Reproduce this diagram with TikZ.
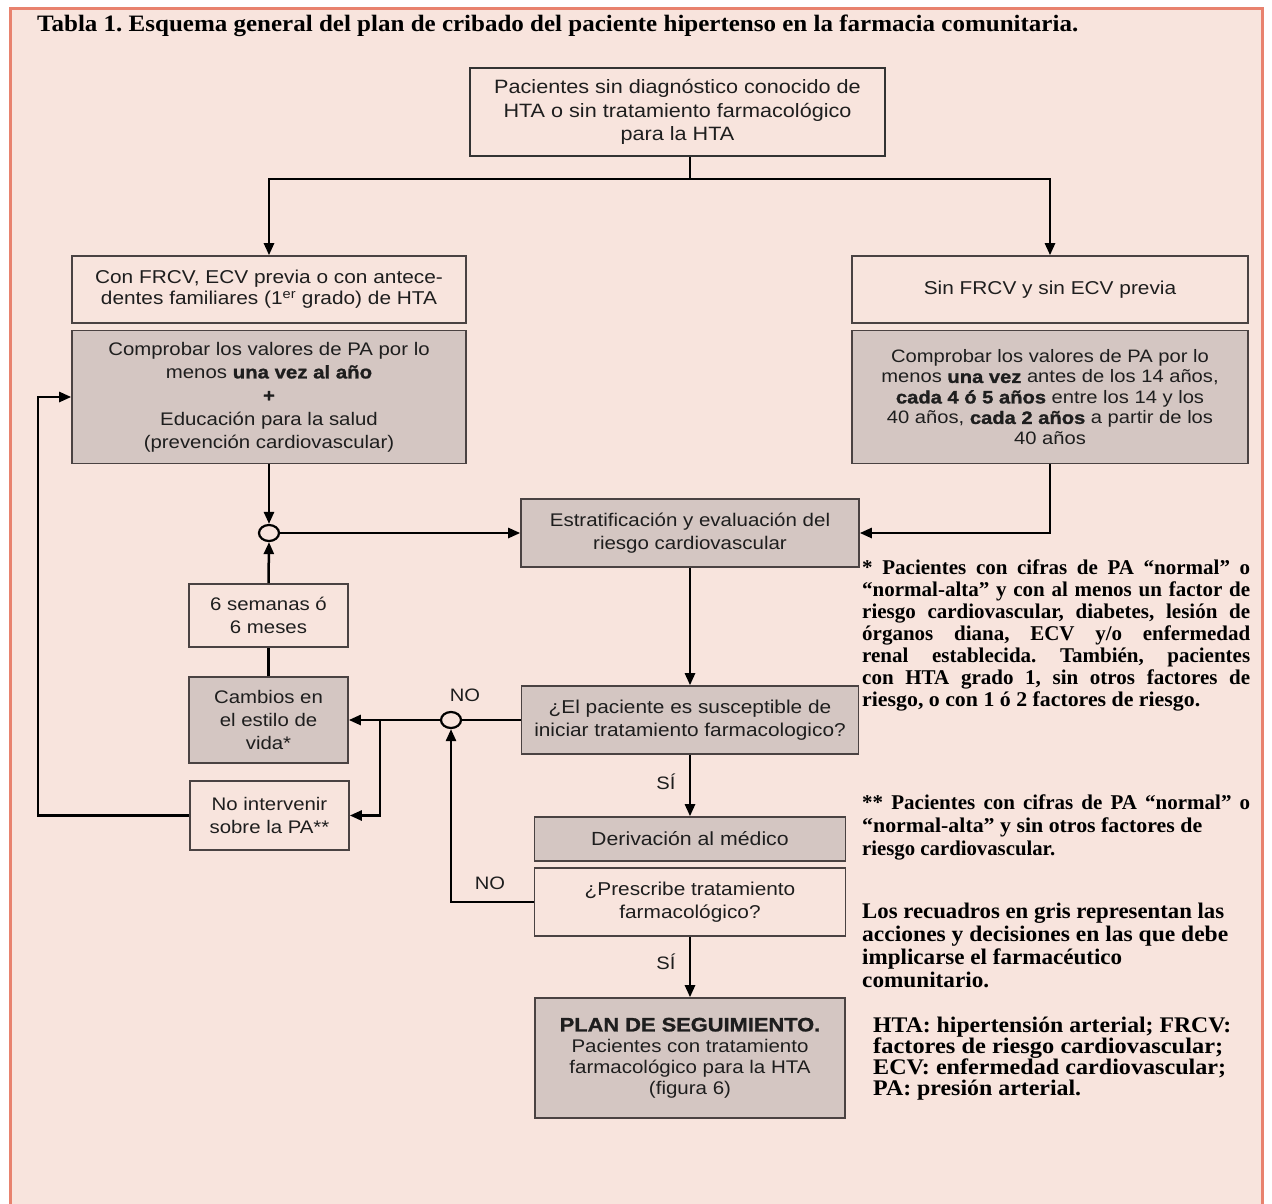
\documentclass[tikz,border=0pt]{standalone}
\usepackage{fontspec}
\usepackage{graphicx}
\usetikzlibrary{arrows.meta,calc,shapes.geometric}
\newfontfamily\arialf[FakeStretch=1.12]{Liberation Sans}
\newfontfamily\arialblk[FakeStretch=1.12,FakeBold=1.2]{Liberation Sans}
\newfontfamily\serifb{Liberation Serif}
\definecolor{bgc}{HTML}{F8E4DD}
\definecolor{framec}{HTML}{E8826E}
\definecolor{grayc}{HTML}{D4C6C2}
\definecolor{edgec}{HTML}{4A4242}
\definecolor{txt}{HTML}{1E1E1E}
\newcommand{\fs}[2]{\fontsize{#1}{#2}\selectfont}
\newcommand{\wl}[2]{\resizebox{#1pt}{\height}{#2}}
\newcommand{\hb}[1]{{\arialblk\bfseries #1}}
\frenchspacing
\begin{document}
\begin{tikzpicture}[x=1pt,y=-1pt,
 box/.style={draw=edgec, line width=1.6pt, fill=bgc, align=center, inner sep=0pt, text=txt, font=\arialf\fs{18.6}{21}},
 gbox/.style={box, fill=grayc},
 ln/.style={line width=2.5pt, black},
 arr/.style={ln, -{Triangle[length=12pt,width=10pt]}},
 circ/.style={ellipse, draw=black, line width=2.2pt, fill=bgc, minimum width=20pt, minimum height=16pt, inner sep=0pt},
 lab/.style={font=\arialf\fs{18}{20}, text=txt, inner sep=0pt},
 note/.style={font=\serifb\bfseries\fs{21}{22}, inner sep=0pt, anchor=base west, text=black},
 noteb/.style={note, font=\serifb\bfseries\fs{22.3}{22}}
]
\useasboundingbox (0,0) rectangle (1272,1203);
\fill[white] (0,0) rectangle (1272,1203);
\fill[bgc] (10,8) rectangle (1262,1215);
\draw[framec, line width=3pt] (10,1215) -- (10,8) -- (1262,8) -- (1262,1215);

% title
\node[anchor=base west, inner sep=0pt] (title) at (37,31) {\resizebox{1041pt}{\height}{\serifb\bfseries\fs{23.5}{24}Tabla 1. Esquema general del plan de cribado del paciente hipertenso en la farmacia comunitaria.}};

% boxes
\node[box, line width=2pt, draw=black!80, minimum width=415pt, minimum height=88pt, font=\arialf\fs{19.3}{23.5}] (top) at (677.5,112) {Pacientes sin diagnóstico conocido de\\HTA o sin tratamiento farmacológico\\para la HTA};
\node[box, minimum width=394pt, minimum height=67pt] (l1) at (269,289.5) {Con FRCV, ECV previa o con antece-\\dentes familiares (1\textsuperscript{er} grado) de HTA};
\node[gbox, minimum width=394pt, minimum height=133pt, font=\arialf\fs{18.2}{23.3}] (l2) at (269,397) {Comprobar los valores de PA por lo\\menos \hb{una vez al año}\\\hb{+}\\Educación para la salud\\(prevención cardiovascular)};
\node[box, minimum width=396pt, minimum height=67pt] (r1) at (1050,289.5) {Sin FRCV y sin ECV previa};
\node[gbox, minimum width=396pt, minimum height=133pt, font=\arialf\fs{18}{20.5}] (r2) at (1050,397) {Comprobar los valores de PA por lo\\menos \hb{una vez} antes de los 14 años,\\\hb{cada 4 ó 5 años} entre los 14 y los\\40 años, \hb{cada 2 años} a partir de los\\40 años};
\node[gbox, minimum width=338pt, minimum height=68pt, font=\arialf\fs{18.3}{23}] (est) at (690,533) {Estratificación y evaluación del\\riesgo cardiovascular};
\node[box, minimum width=159pt, minimum height=63pt, font=\arialf\fs{18.2}{23}] (sem) at (268.5,615.5) {6 semanas ó\\6 meses};
\node[gbox, minimum width=159pt, minimum height=86pt, font=\arialf\fs{18.2}{23}] (cam) at (268.5,720) {Cambios en\\el estilo de\\vida*};
\node[box, minimum width=159pt, minimum height=69pt, font=\arialf\fs{18.2}{23}] (noi) at (269.5,815.5) {No intervenir\\sobre la PA**};
\node[gbox, minimum width=337pt, minimum height=68pt, font=\arialf\fs{18.6}{23}] (pac) at (690,720) {¿El paciente es susceptible de\\iniciar tratamiento farmacologico?};
\node[gbox, minimum width=311pt, minimum height=44pt, font=\arialf\fs{19}{23}] (der) at (690,839) {Derivación al médico};
\node[box, minimum width=311pt, minimum height=68pt, font=\arialf\fs{18.6}{23}] (pre) at (690,902) {¿Prescribe tratamiento\\farmacológico?};
\node[gbox, minimum width=310pt, minimum height=120pt, font=\arialf\fs{18.3}{21}] (plan) at (690,1058) {{\fs{19.5}{21}\hb{PLAN DE SEGUIMIENTO.}}\\Pacientes con tratamiento\\farmacológico para la HTA\\(figura 6)};

% junctions
\node[circ] (c1) at (269,533) {};
\node[circ] (c2) at (451,720) {};
\coordinate (jt) at (690,179);
\coordinate (br) at (380,720);
\coordinate (fb) at (38,0);

% connectors
\draw[ln] (top.south -| jt) -- (jt);
\draw[arr] (jt) -| (l1.north);
\draw[arr] (jt) -| (r1.north);
\draw[arr] (l2.south) -- (c1.north);
\draw[arr] (c1.east) -- (est.west);
\draw[arr] (r2.south) |- (est.east);
\draw[arr] (sem.north) -- (c1.south);
\draw[ln] (cam.north) -- (sem.south);
\draw[arr] (est.south) -- (pac.north);
\draw[ln] (pac.west) -- (c2.east);
\draw[arr] (c2.west) -- (cam.east);
\draw[arr] (br) |- (noi.east);
\draw[arr] (noi.west) -| (fb |- l2.west) -- (l2.west);
\draw[arr] (pac.south) -- (der.north);
\draw[arr] (pre.west) -| (c2.south);
\draw[arr] (pre.south) -- (plan.north);

% labels
\node[lab] (no1) at (465,695) {NO};
\node[lab] (no2) at (490,883) {NO};
\node[lab] (si1) at (666,782) {SÍ};
\node[lab] (si2) at (666,962) {SÍ};

% notes
\node[note] (a1) at (862,574) {\makebox[388pt][s]{* Pacientes con cifras de PA “normal” o}};
\node[note] (a2) at (862,596) {\makebox[388pt][s]{“normal-alta” y con al menos un factor de}};
\node[note] (a3) at (862,618) {\makebox[388pt][s]{riesgo cardiovascular, diabetes, lesión de}};
\node[note] (a4) at (862,640) {\makebox[388pt][s]{órganos diana, ECV y/o enfermedad}};
\node[note] (a5) at (862,662) {\makebox[388pt][s]{renal establecida. También, pacientes}};
\node[note] (a6) at (862,684) {\makebox[388pt][s]{con HTA grado 1, sin otros factores de}};
\node[note] (a7) at (862,706) {\wl{338}{riesgo, o con 1 ó 2 factores de riesgo.}};

\node[note] (b1) at (862,809) {\makebox[388pt][s]{** Pacientes con cifras de PA “normal” o}};
\node[note] (b2) at (862,832) {\wl{340}{“normal-alta” y sin otros factores de}};
\node[note] (b3) at (862,855) {\wl{193}{riesgo cardiovascular.}};

\node[noteb] (d1) at (862,918) {\wl{362}{Los recuadros en gris representan las}};
\node[noteb] (d2) at (862,941) {\wl{366}{acciones y decisiones en las que debe}};
\node[noteb] (d3) at (862,964) {\wl{260}{implicarse el farmacéutico}};
\node[noteb] (d4) at (862,987) {\wl{127}{comunitario.}};

\node[noteb] (e1) at (873,1032) {\wl{358}{HTA: hipertensión arterial; FRCV:}};
\node[noteb] (e2) at (873,1053) {\wl{350}{factores de riesgo cardiovascular;}};
\node[noteb] (e3) at (873,1074) {\wl{353}{ECV: enfermedad cardiovascular;}};
\node[noteb] (e4) at (873,1095) {\wl{208}{PA: presión arterial.}};
\end{tikzpicture}
\end{document}
